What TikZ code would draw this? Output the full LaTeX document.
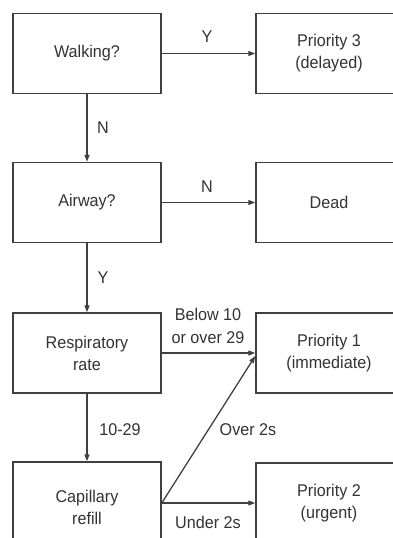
\documentclass[tikz,border=0pt]{standalone}
\usepackage{fontspec}
\setmainfont[FakeStretch=0.95]{Liberation Sans}
\usetikzlibrary{arrows.meta,calc}
\definecolor{inkgray}{HTML}{333333}
\definecolor{linegray}{HTML}{404040}
\tikzset{
  box/.style={draw=linegray, line width=1.5pt, fill=white, rectangle,
    minimum width=148pt, minimum height=80pt, inner sep=0pt,
    align=center, text=inkgray, font=\fontsize{17}{22}\selectfont},
  rbox/.style={box, minimum width=146pt},
  flow/.style={draw=linegray, line width=1.3pt,
    -{Triangle[length=7pt,width=5pt]}},
  lbl/.style={text=inkgray, inner sep=0pt, align=center,
    font=\fontsize{17}{22}\selectfont}
}
\begin{document}
\begin{tikzpicture}[x=1pt,y=-1pt]
  \useasboundingbox (0,0) rectangle (393,538);
  \clip (0,0) rectangle (393,538);
  \fill[white] (0,0) rectangle (393,538);

  % decision boxes (left column)
  \node[box] (walk) at (87,53.5) {Walking?};
  \node[box] (air)  at (87,202.5) {Airway?};
  \node[box] (resp) at (87,353) {Respiratory\\rate};
  \node[box, minimum height=90pt] (cap) at (87,507) {Capillary\\refill};

  % outcome boxes (right column)
  \node[rbox] (p3)   at (329,53.5) {Priority 3\\(delayed)};
  \node[rbox] (dead) at (329,202.5) {Dead};
  \node[rbox] (p1)   at (329,353) {Priority 1\\(immediate)};
  \node[rbox] (p2)   at (329,503) {Priority 2\\(urgent)};

  % both branches leave the capillary box from one point, level with Priority 2
  \coordinate (capout) at (cap.east |- p2.west);
  \coordinate (p1low)  at ($(p1.west)+(0,3)$);

  % connectors
  \draw[flow] (walk.east) -- (p3.west);
  \draw[flow] (walk.south) -- (air.north);
  \draw[flow] (air.east) -- (dead.west);
  \draw[flow] (air.south) -- (resp.north);
  \draw[flow] (resp.east) -- (p1.west);
  \draw[flow] (resp.south) -- (cap.north);
  \draw[flow] (capout) -- (p1low);
  \draw[flow] (capout) -- (p2.west);

  % connector labels
  \node[lbl] (lY1)   at (207,37)  {Y};
  \node[lbl] (lN1)   at (103,128) {N};
  \node[lbl] (lN2)   at (207,187) {N};
  \node[lbl] (lY2)   at (103,278) {Y};
  \node[lbl, font=\fontsize{17}{23}\selectfont] (lrate) at (208,326) {Below 10\\or over 29};
  \node[lbl] (l1029) at (120,430) {10-29};
  \node[lbl] (lover) at (248,430) {Over 2s};
  \node[lbl] (lunder) at (208,522) {Under 2s};
\end{tikzpicture}
\end{document}
